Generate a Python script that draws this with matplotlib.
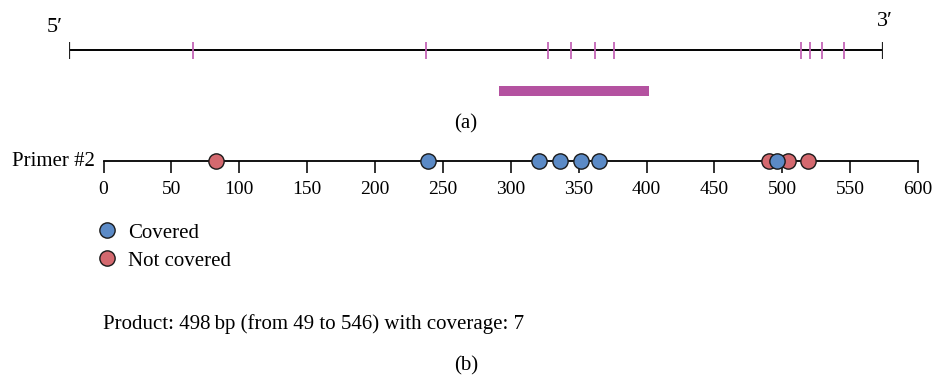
import matplotlib
matplotlib.use("Agg")
import matplotlib.pyplot as plt
from matplotlib.lines import Line2D

plt.rcParams['font.family'] = ['Liberation Serif', 'DejaVu Serif']
plt.rcParams['font.size'] = 15

# sequence positions (bp)
seq_len = 545
site_pos = [83, 239, 321, 336, 352, 365, 490, 496, 504, 519]
product_start = 288
product_end = 388

covered = [239, 321, 336, 352, 365, 496]
not_covered = [83, 490, 504, 519]
x_ticks = list(range(0, 601, 50))

primer_name = "Primer #2"
product_text = "Product: 498\u2009bp (from 49 to 546) with coverage: 7"

blue = "#5b8ac6"
red = "#d4696f"
mag_tick = "#c466b6"
mag_bar = "#b452a0"

W, H = 932, 380
fig = plt.figure(figsize=(W / 100, H / 100), dpi=100)

def px_axes(x0, x1, y0, y1):
    # axes placed in pixel coordinates of the figure (y measured from top)
    return fig.add_axes([x0 / W, 1 - y1 / H, (x1 - x0) / W, (y1 - y0) / H])

# ---- (a) sequence map
ax1 = px_axes(69, 883, 0, 110)
ax1.set_xlim(0, seq_len)
ax1.set_ylim(110, 0)
ax1.axis('off')
line_y = 50
ax1.hlines(line_y, 0, seq_len, color='black', lw=1.4)
ax1.vlines([0, seq_len], 41.5, 58.5, color='#222222', lw=1.6)
ax1.vlines(site_pos, 41.5, 58.5, color=mag_tick, lw=1.3)
ax1.broken_barh([(product_start, product_end - product_start)], (86, 10),
                facecolors=mag_bar)
fig.text(55 / W, 1 - 27 / H, "5\u2032", ha='center', va='center', fontsize=16)
fig.text(885 / W, 1 - 22 / H, "3\u2032", ha='center', va='center', fontsize=16)
fig.text(466 / W, 1 - 124 / H, "(a)", ha='center', va='center')

# ---- (b) primer coverage
ax2 = px_axes(103.5, 918, 140, 380)
ax2.set_xlim(0, 600)
ax2.set_ylim(380, 140)
for s in ['top', 'left', 'right']:
    ax2.spines[s].set_visible(False)
track_y = 160.5
ax2.spines['bottom'].set_position(('data', track_y))
ax2.spines['bottom'].set_linewidth(1.3)
ax2.set_xticks(x_ticks)
ax2.tick_params(axis='x', direction='out', length=8.5, width=1.3,
                color='#222222', pad=6.5, labelsize=14)
ax2.set_yticks([])

ax2.plot(covered, [track_y] * len(covered), 'o', ms=11, mfc=blue,
         mec='#1a1a1a', mew=1.0, ls='none', clip_on=False, zorder=5)
ax2.plot(not_covered, [track_y] * len(not_covered), 'o', ms=11, mfc=red,
         mec='#1a1a1a', mew=1.0, ls='none', clip_on=False, zorder=4)

fig.text(95 / W, 1 - 162 / H, primer_name, ha='right', va='center')

handles = [
    Line2D([], [], marker='o', ls='none', ms=11, mfc=blue, mec='#1a1a1a', mew=1.0),
    Line2D([], [], marker='o', ls='none', ms=11, mfc=red, mec='#1a1a1a', mew=1.0),
]
fig.legend(handles, ["Covered", "Not covered"], loc='upper left',
           bbox_to_anchor=(98 / W, 1 - 223 / H), frameon=False,
           handlelength=0.9, handletextpad=0.55, borderpad=0,
           borderaxespad=0, labelspacing=0.4)

fig.text(103 / W, 1 - 324 / H, product_text, ha='left', va='center')
fig.text(466 / W, 1 - 366 / H, "(b)", ha='center', va='center')

fig.savefig("out.png", dpi=100)
